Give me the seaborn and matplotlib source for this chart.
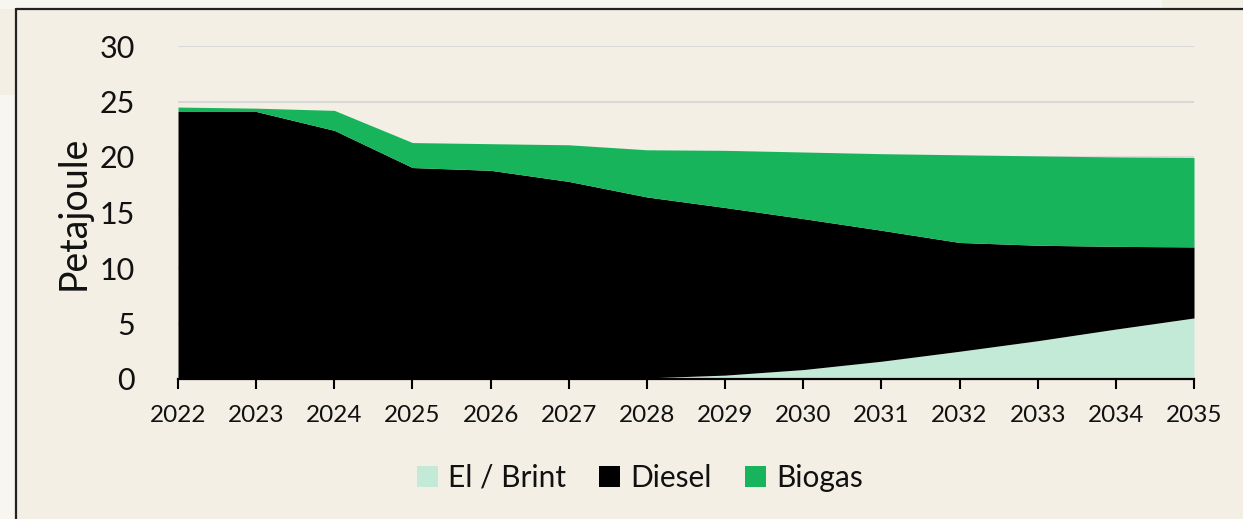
import numpy as np
import matplotlib
matplotlib.use("Agg")
import matplotlib.pyplot as plt
from matplotlib.patches import Patch, Rectangle
import seaborn as sns

# data (Petajoule)
years = [2022, 2023, 2024, 2025, 2026, 2027, 2028, 2029, 2030, 2031, 2032, 2033, 2034, 2035]
el_brint = [0, 0, 0, 0, 0, 0, 0.1, 0.35, 0.85, 1.6, 2.5, 3.45, 4.5, 5.5]
diesel = [24.1, 24.1, 22.4, 19.05, 18.8, 17.8, 16.3, 15.1, 13.6, 11.8, 9.8, 8.6, 7.45, 6.4]
biogas = [0.4, 0.3, 1.8, 2.25, 2.4, 3.3, 4.25, 5.15, 6.0, 6.9, 7.9, 8.05, 8.05, 8.05]
series_names = ["El / Brint", "Diesel", "Biogas"]
colors = ["#c3ead6", "#000000", "#17b45c"]

bg = "#f3efe5"
sns.set_theme(style="white")
plt.rcParams["font.family"] = ["Lato", "DejaVu Sans"]

fig = plt.figure(figsize=(12.43, 5.19), dpi=100, facecolor=bg)

# lighter page strips outside the frame + the frame itself
fig.patches.append(Rectangle((0, 1 - 9 / 519), 1162 / 1243, 9 / 519, transform=fig.transFigure,
                             facecolor="#f8f6f0", edgecolor="none", zorder=0))
fig.patches.append(Rectangle((0, 0), 16 / 1243, 1 - 95 / 519, transform=fig.transFigure,
                             facecolor="#f8f6f0", edgecolor="none", zorder=0))
fig.add_artist(plt.Line2D([16 / 1243, 1], [1 - 9 / 519, 1 - 9 / 519], transform=fig.transFigure,
                          color="#222222", lw=1.6))
fig.add_artist(plt.Line2D([16 / 1243, 16 / 1243], [0, 1 - 9 / 519], transform=fig.transFigure,
                          color="#222222", lw=1.6))

ax = fig.add_axes([178 / 1243, 140 / 519, (1194 - 178) / 1243, (379 - 46) / 519])
ax.set_facecolor(bg)

ax.stackplot(years, el_brint, diesel, biogas, colors=colors, labels=series_names,
             linewidth=0, zorder=2)

ax.set_xlim(years[0], years[-1])
ax.set_ylim(0, 30)
ax.set_yticks(np.arange(0, 31, 5))
ax.set_xticks(years)
ax.yaxis.grid(True, color="#d9d9d9", lw=1.5, zorder=0)
ax.xaxis.grid(False)
ax.set_axisbelow(True)

sns.despine(ax=ax, left=True, top=True, right=True)
ax.spines["bottom"].set_color("black")
ax.spines["bottom"].set_linewidth(1.6)
ax.spines["bottom"].set_zorder(3)

ax.tick_params(axis="x", bottom=True, direction="out", length=7, width=1.5, color="black",
               labelsize=17.5, pad=12, labelcolor="#111111")
ax.tick_params(axis="y", left=False, labelsize=22, pad=25, labelcolor="#111111")
ax.set_ylabel("Petajoule", fontsize=27, color="#111111", labelpad=6)

handles = [Patch(facecolor=c, edgecolor="none") for c in colors]
fig.legend(handles, series_names, loc="center", bbox_to_anchor=(640 / 1243, 1 - 478 / 519),
           ncol=3, frameon=False, fontsize=21.5, handlelength=0.7, handleheight=0.7,
           handletextpad=0.35, columnspacing=1.1, labelcolor="#111111")

fig.savefig("out.png", dpi=100, facecolor=bg)
